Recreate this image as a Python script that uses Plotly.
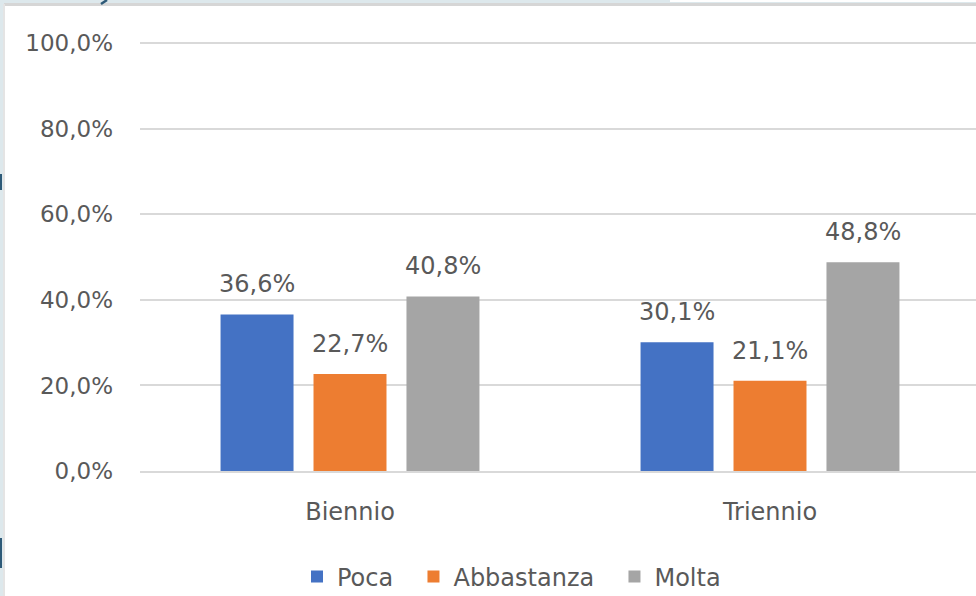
import plotly.graph_objects as go

# Survey shares by school cycle
categories = ["Biennio", "Triennio"]
series_names = ["Poca", "Abbastanza", "Molta"]
poca = [0.366, 0.301]
abbastanza = [0.227, 0.211]
molta = [0.408, 0.488]
tick_values = [0.0, 0.2, 0.4, 0.6, 0.8, 1.0]

series_values = [poca, abbastanza, molta]
colors = ["#4472C4", "#ED7D31", "#A5A5A5"]

FONT = "DejaVu Sans"
TEXT_GRAY = "#595959"

W, H = 976, 596
Y_TOP = 1.01
ML, MR, MB = 140, 0, 125
MT = round(H - MB - 428 * Y_TOP)
plot_w = W - ML - MR
CAT_PX = 420  # width of one category band in pixels
BARGAP = 0.336
slot_px = CAT_PX * (1 - BARGAP) / len(series_names)
x_hi = -0.5 + plot_w / CAT_PX

fig = go.Figure()
for name, vals, col in zip(series_names, series_values, colors):
    fig.add_trace(go.Bar(
        x=categories, y=vals, name=name + "\u00a0\u00a0",
        marker=dict(color=col, line=dict(width=0)),
        hoverinfo="skip",
    ))

# value labels above each bar
annotations = []
for i, vals in enumerate(series_values):
    shift = (i - (len(series_names) - 1) / 2) * slot_px
    for cat, v in zip(categories, vals):
        annotations.append(dict(
            x=cat, y=v, xref="x", yref="y",
            text=f"{v * 100:.1f}%".replace(".", ","),
            showarrow=False, xanchor="center", yanchor="bottom",
            xshift=shift, yshift=14,
            font=dict(family=FONT, size=24, color=TEXT_GRAY),
        ))


def px_x(px):
    return (px - ML) / plot_w


def px_y(py):
    return 1 - (py - MT) / (H - MT - MB)


# window edges around the chart
shapes = [
    dict(type="rect", xref="paper", yref="paper", layer="below",
         x0=px_x(0), x1=px_x(W), y0=px_y(0), y1=px_y(4),
         fillcolor="#DDE8EC", line=dict(width=0)),
    dict(type="rect", xref="paper", yref="paper", layer="below",
         x0=px_x(670), x1=px_x(W), y0=px_y(0), y1=px_y(2),
         fillcolor="#FFFFFF", line=dict(width=0)),
    dict(type="rect", xref="paper", yref="paper", layer="below",
         x0=px_x(2), x1=px_x(W), y0=px_y(3), y1=px_y(6),
         fillcolor="#D6D6D6", line=dict(width=0)),
    dict(type="rect", xref="paper", yref="paper", layer="below",
         x0=px_x(0), x1=px_x(4), y0=px_y(0), y1=px_y(H),
         fillcolor="#DDE8EC", line=dict(width=0)),
    dict(type="rect", xref="paper", yref="paper", layer="below",
         x0=px_x(3), x1=px_x(5), y0=px_y(4), y1=px_y(H),
         fillcolor="#E4E4E4", line=dict(width=0)),
    dict(type="rect", xref="paper", yref="paper", layer="below",
         x0=px_x(0), x1=px_x(2), y0=px_y(174), y1=px_y(190),
         fillcolor="#2E5A78", line=dict(width=0)),
    dict(type="rect", xref="paper", yref="paper", layer="below",
         x0=px_x(0), x1=px_x(2), y0=px_y(538), y1=px_y(568),
         fillcolor="#2E5A78", line=dict(width=0)),
    dict(type="line", xref="paper", yref="paper", layer="below",
         x0=px_x(101), x1=px_x(107), y0=px_y(4), y1=px_y(0),
         line=dict(color="#2E5A78", width=2.5)),
]

fig.update_layout(
    width=W, height=H,
    margin=dict(l=ML, r=MR, t=MT, b=MB, pad=0, autoexpand=False),
    paper_bgcolor="white", plot_bgcolor="white",
    barmode="group", bargap=BARGAP, bargroupgap=0.215,
    separators=",.",
    font=dict(family=FONT, color=TEXT_GRAY),
    showlegend=True,
    legend=dict(
        orientation="h", x=px_x(297), y=px_y(577), xanchor="left", yanchor="middle",
        font=dict(family=FONT, size=24, color=TEXT_GRAY),
        itemwidth=30, traceorder="normal", bgcolor="rgba(0,0,0,0)",
    ),
    xaxis=dict(
        range=[-0.5, x_hi],
        showgrid=False, showline=True, linecolor="#D9D9D9", linewidth=2,
        ticks="", tickfont=dict(family=FONT, size=24, color=TEXT_GRAY),
        ticklabelstandoff=18,
    ),
    yaxis=dict(
        range=[0, Y_TOP], tickvals=tick_values, tickformat=".1%",
        showgrid=True, gridcolor="#D9D9D9", gridwidth=2,
        zeroline=False, showline=False, ticks="",
        tickfont=dict(family=FONT, size=23, color=TEXT_GRAY),
        ticklabelstandoff=26,
    ),
    annotations=annotations,
    shapes=shapes,
)

fig.write_html("out.html")
